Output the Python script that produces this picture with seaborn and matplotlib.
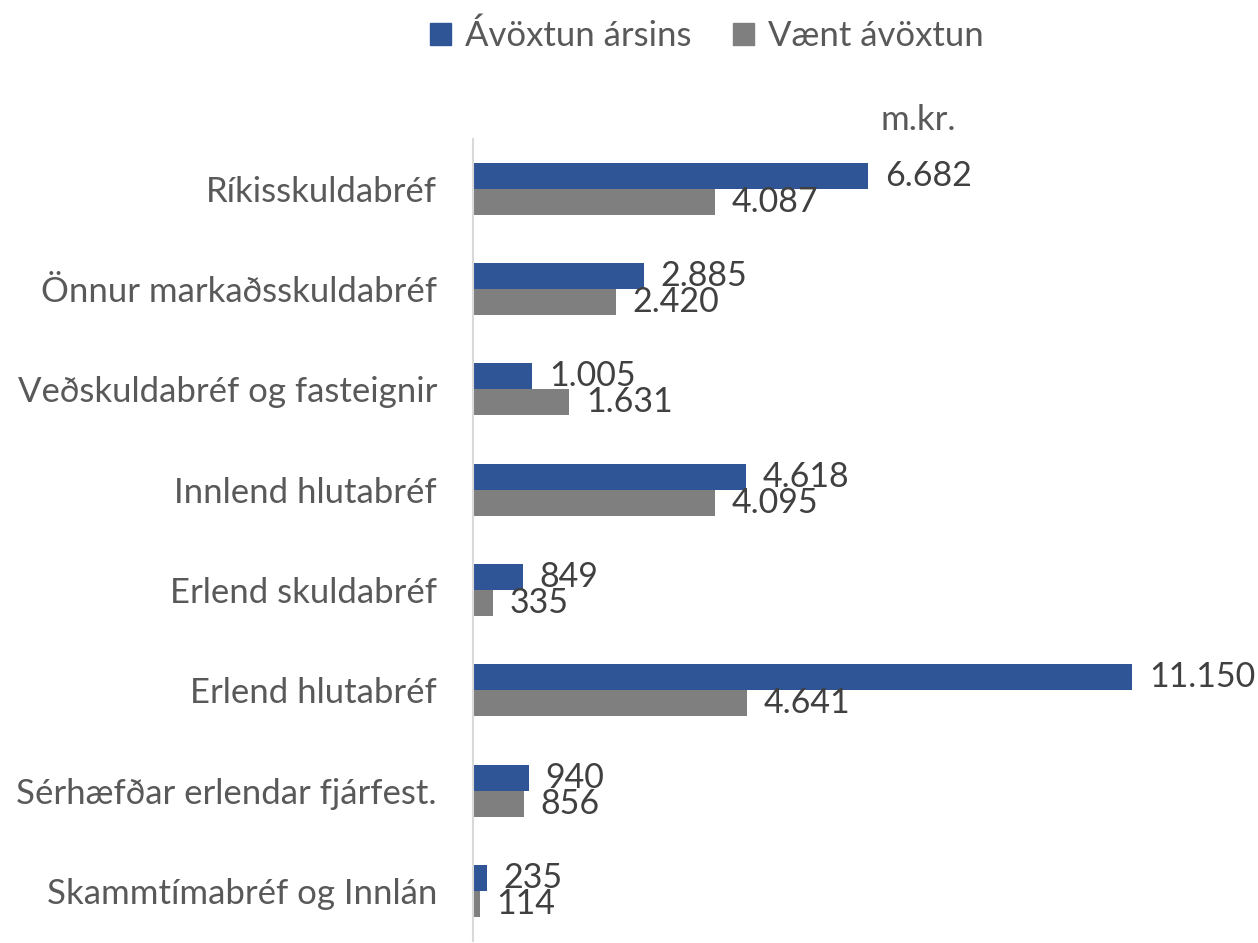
import pandas as pd
import matplotlib.pyplot as plt
import seaborn as sns

categories = ['Ríkisskuldabréf', 'Önnur markaðsskuldabréf', 'Veðskuldabréf og fasteignir',
              'Innlend hlutabréf', 'Erlend skuldabréf', 'Erlend hlutabréf',
              'Sérhæfðar erlendar fjárfest.', 'Skammtímabréf og Innlán']
avoxtun_arsins = [6682, 2885, 1005, 4618, 849, 11150, 940, 235]
vaent_avoxtun = [4087, 2420, 1631, 4095, 335, 4641, 856, 114]
series = ['Ávöxtun ársins', 'Vænt ávöxtun']

df = pd.DataFrame({
    'Flokkur': categories * 2,
    'Röð': [series[0]] * len(categories) + [series[1]] * len(categories),
    'Gildi': avoxtun_arsins + vaent_avoxtun,
})

sns.set_style('white')
plt.rcParams['font.family'] = ['Lato', 'DejaVu Sans']

fig = plt.figure(figsize=(12.58, 9.43), dpi=100)
ax = fig.add_axes([0.376, 0.002, 0.564, 0.851])

palette = {series[0]: '#2F5597', series[1]: '#7F7F7F'}
sns.barplot(data=df, y='Flokkur', x='Gildi', hue='Röð', order=categories,
            hue_order=series, palette=palette, orient='h', width=0.52,
            saturation=1, linewidth=0, ax=ax, legend=False)

ax.set_xlim(0, 12000)
ax.set_ylim(len(categories) - 0.5, -0.5)
ax.set_xlabel('')
ax.set_ylabel('')
ax.set_xticks([])
for s in ['top', 'right', 'bottom']:
    ax.spines[s].set_visible(False)
ax.spines['left'].set_color('#D9D9D9')
ax.spines['left'].set_linewidth(1.5)
ax.tick_params(axis='y', length=0, pad=26, labelsize=25, labelcolor='#595959')

# value labels (overlap between the pair of bars like in the original)
for cont in ax.containers:
    labels = [f'{int(v):,}'.replace(',', '.') for v in cont.datavalues]
    ax.bar_label(cont, labels=labels, padding=12, fontsize=24.5, color='#404040',
                 clip_on=False)

handles = [plt.Rectangle((0, 0), 1, 1, color=palette[s]) for s in series]
fig.legend(handles, series, loc='upper center', bbox_to_anchor=(0.562, 1.012),
           ncol=2, frameon=False, fontsize=25, labelcolor='#595959',
           handlelength=0.6, handleheight=0.6, handletextpad=0.4, columnspacing=1.2)

fig.text(0.7, 0.862, 'm.kr.', fontsize=25, color='#595959')

fig.savefig('out.png', dpi=100)
